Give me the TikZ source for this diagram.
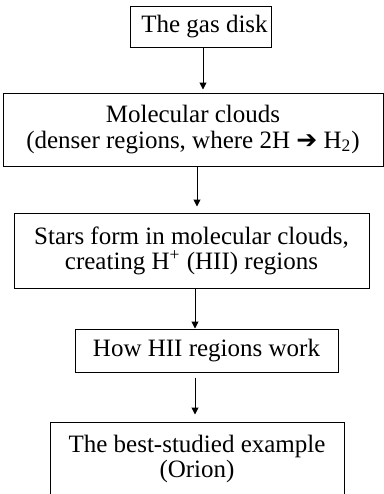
\documentclass[tikz,border=0pt]{standalone}
\usepackage{fontspec}
\setmainfont{Liberation Serif}
\newfontfamily\dejavu{DejaVu Sans}
\usetikzlibrary{arrows.meta}
\tikzset{
  flowbox/.style={draw=black, line width=0.5pt, inner sep=0pt, align=center,
    font=\fontsize{12.5}{12.6}\selectfont},
  flowarrow/.style={draw=black, line width=0.5pt, -{Triangle[length=3.5pt,width=3.5pt]}}
}
\begin{document}
\begin{tikzpicture}[x=0.5pt,y=-0.5pt]
\clip (0,0) rectangle (384,494);
\fill[white] (0,0) rectangle (384,494);
\node[flowbox, minimum width=70.5pt, minimum height=20.5pt] (b1) at (200.5,26.5) {\hspace{4pt}The gas disk};
\node[flowbox, minimum width=190pt, minimum height=36.5pt] (b2) at (193,129.5)
  {Molecular clouds\\(denser regions, where 2H {\dejavu\bfseries\fontsize{12.5}{12}\selectfont ➔} H\textsubscript{2})};
\node[flowbox, minimum width=177.5pt, minimum height=37.5pt] (b3) at (191.5,250.5)
  {Stars form in molecular clouds,\\creating H\textsuperscript{+} (HII) regions};
\node[flowbox, minimum width=131.5pt, minimum height=21.5pt] (b4) at (206.5,350.5) {How HII regions work};
\node[flowbox, minimum width=147pt, minimum height=37pt] (b5) at (197,459)
  {The best-studied example\\(Orion)};
\coordinate (x1) at (203,0);
\coordinate (x2) at (197,0);
\coordinate (x3) at (195,0);
\coordinate (x4) at (195,0);
\draw[flowarrow, shorten >=1.5pt] (b1.south -| x1) -- (b2.north -| x1);
\draw[flowarrow, shorten >=3pt] (b2.south -| x2) -- (b3.north -| x2);
\draw[flowarrow] (b3.south -| x3) -- (b4.north -| x3);
\draw[flowarrow, shorten <=2.5pt, shorten >=3.5pt] (b4.south -| x4) -- (b5.north -| x4);
\end{tikzpicture}
\end{document}
